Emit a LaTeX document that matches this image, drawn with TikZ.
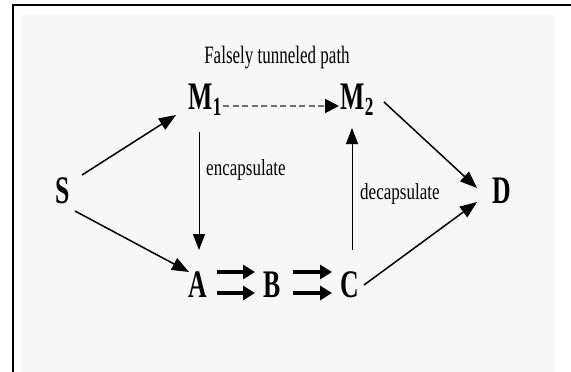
\documentclass[tikz,border=0pt]{standalone}
\usepackage{fontspec}
\setmainfont{Liberation Serif}
\newfontfamily\condfont[FakeStretch=0.68]{Liberation Serif}
\newfontfamily\lblfont[FakeStretch=0.74]{Liberation Serif}
\newfontfamily\condbold[FakeStretch=0.66]{Liberation Serif}
\usetikzlibrary{arrows.meta,calc}
\definecolor{bggray}{HTML}{F7F7F7}
\definecolor{dashgray}{HTML}{6E6E6E}
\begin{document}
\begin{tikzpicture}[x=1pt,y=-1pt,
  letter/.style={inner sep=0pt, text height=26pt, text depth=0pt,
    font=\condbold\bfseries\fontsize{39}{39}\selectfont},
  lbl/.style={inner sep=0pt, font=\lblfont\fontsize{23}{23}\selectfont},
  conn/.style={line width=1.5pt, -{Triangle[length=17pt,width=13pt]}},
  vconn/.style={line width=1pt, -{Triangle[length=16pt,width=12pt]}},
  dconn/.style={line width=2pt, dashgray, dash pattern=on 6pt off 3.5pt,
    -{Triangle[length=14pt,width=14pt,color=black]}},
  fat/.style={line width=3.5pt, -{Triangle[length=12pt,width=14pt]}},
]
\useasboundingbox (0,0) rectangle (571,372);
\fill[white] (0,0) rectangle (571,372);
\fill[bggray] (21,15) rectangle (555,372);
\draw[line width=2pt] (13,372) -- (13,5) -- (571,5);

% nodes
\node[letter] (S)  at (63,190)  {S};
\node[letter] (M1) at (205,96)  {M\raisebox{-6pt}{\fontsize{26}{26}\selectfont 1}};
\node[letter] (M2) at (357,96)  {M\raisebox{-6pt}{\fontsize{26}{26}\selectfont 2}};
\node[letter] (A)  at (198,284) {A};
\node[letter] (B)  at (272.5,284) {B};
\node[letter] (C)  at (350,284) {C};
\node[letter] (D)  at (502,190) {D};

% labels
\node[lbl, font=\condfont\fontsize{25}{25}\selectfont, anchor=base] (title) at (277,63) {Falsely tunneled path};
\node[lbl, anchor=base west] (enc) at (206,175) {encapsulate};
\node[lbl, anchor=base west] (dec) at (360,199) {decapsulate};

% connectors
\draw[conn] ($(S)+(19,-15)$) -- ($(M1)+(-29,19)$);
\draw[conn] ($(S)+(12,21)$) -- ($(A)+(-9,-12)$);
\draw[vconn] ($(M1)+(-6,36)$) -- ($(A)+(1,-34)$);
\draw[vconn] ($(C)+(2,-34)$) -- ($(M2)+(-5,32)$);
\draw[conn] ($(M2)+(27,6)$) -- ($(D)+(-25,-2)$);
\draw[conn] ($(C)+(14,1)$) -- ($(D)+(-25,12)$);
\draw[dconn] ($(M1)+(18,10)$) -- ($(M2)+(-18,10)$);
\draw[fat] ($(A)+(19,-12)$) -- ($(B)+(-17.5,-12)$);
\draw[fat] ($(A)+(19,9)$) -- ($(B)+(-17.5,9)$);
\draw[fat] ($(B)+(20.5,-12)$) -- ($(C)+(-18,-12)$);
\draw[fat] ($(B)+(20.5,9)$) -- ($(C)+(-18,9)$);
\end{tikzpicture}
\end{document}
